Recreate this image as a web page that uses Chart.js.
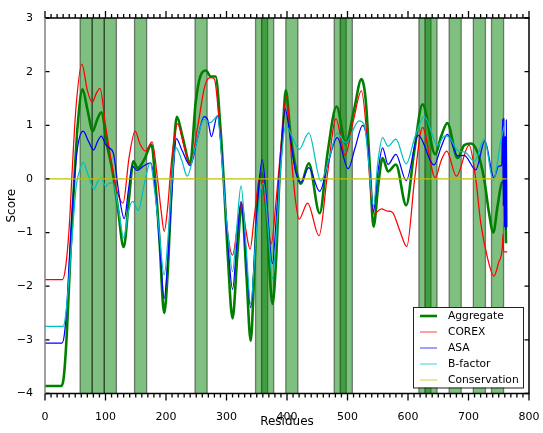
<!DOCTYPE html>
<html>
<head>
<meta charset="utf-8">
<script src="https://cdn.jsdelivr.net/npm/chart.js@4.4.0/dist/chart.umd.min.js"></script>
<style>
  html, body { margin: 0; padding: 0; background: #fff; }
  #wrap { width: 543px; height: 433px; }
</style>
</head>
<body>
<div id="wrap"><canvas id="chart"></canvas></div>
<script>
// Residue positions and scores, one pair of arrays per series
const aggRes = [0, 27, 31, 36, 42, 48, 54, 62, 70, 79, 86, 93, 103, 111, 120, 130, 139, 146, 153, 164, 176, 183, 189, 197, 203, 208, 213, 218, 227, 240, 249, 257, 266, 274, 282, 290, 296, 302, 310, 318, 325, 333, 340, 346, 351, 358, 366, 376, 382, 387, 393, 398, 406, 415, 423, 436, 454, 467, 482, 497, 511, 523, 527, 531, 537, 543, 551, 558, 567, 580, 597, 610, 624, 645, 655, 665, 682, 693, 704, 715, 726, 734, 741, 748, 756, 760, 762];
const aggScore = [-3.86, -3.86, -3.7, -2.9, -1.4, -0.1, 1.0, 1.67, 1.3, 0.89, 1.1, 1.24, 0.61, 0.18, -0.5, -1.27, -0.35, 0.33, 0.2, 0.36, 0.64, -0.15, -1.1, -2.5, -1.7, -0.45, 0.6, 1.16, 0.8, 0.29, 1.42, 1.92, 2.02, 1.91, 1.91, 0.95, -0.14, -1.4, -2.6, -1.4, -0.48, -1.8, -3.02, -1.7, -0.45, 0.12, -0.6, -2.33, -1.5, -0.14, 0.9, 1.65, 0.8, 0.18, -0.09, 0.29, -0.64, 0.48, 1.35, 0.66, 1.3, 1.86, 1.74, 1.35, 0.2, -0.89, -0.1, 0.39, 0.14, 0.27, -0.49, 0.49, 1.39, 0.46, 0.8, 1.04, 0.39, 0.63, 0.66, 0.49, -0.01, -0.64, -1.0, -0.51, -0.06, -0.1, -1.2];

const corexRes = [0, 29, 34, 40, 45, 51, 61, 70, 78, 85, 91, 100, 109, 117, 129, 139, 149, 157, 166, 177, 186, 192, 197, 203, 208, 213, 219, 230, 240, 252, 263, 268, 274, 280, 288, 296, 302, 310, 318, 325, 332, 339, 346, 356, 365, 374, 382, 390, 399, 408, 414, 420, 434, 453, 467, 481, 496, 510, 523, 532, 538, 544, 556, 566, 574, 586, 598, 611, 624, 645, 655, 664, 680, 701, 712, 720, 732, 742, 750, 756, 757, 758, 764];
const corexScore = [-1.875, -1.875, -1.65, -0.9, 0.17, 1.3, 2.14, 1.65, 1.43, 1.6, 1.69, 1.0, 0.36, -0.14, -0.45, 0.4, 0.89, 0.65, 0.52, 0.69, 0.0, -0.6, -0.98, -0.5, 0.2, 0.7, 1.03, 0.6, 0.27, 0.95, 1.68, 1.85, 1.89, 1.86, 1.05, -0.2, -1.0, -1.42, -0.9, -0.44, -0.95, -1.31, -0.7, 0.08, -0.5, -1.21, -0.4, 0.6, 1.55, 0.3, -0.4, -0.75, -0.45, -1.06, 0.1, 1.12, 0.44, 1.1, 1.64, 0.8, -0.2, -0.65, -0.56, -0.6, -0.62, -0.95, -1.26, 0.0, 0.96, 0.02, 0.35, 0.52, 0.05, 0.63, 0.0, -0.8, -1.5, -1.81, -1.55, -1.26, -1.03, -1.36, -1.36];

const asaRes = [0, 28, 32, 37, 42, 48, 54, 63, 72, 80, 87, 93, 100, 106, 113, 122, 131, 138, 144, 152, 163, 175, 183, 190, 197, 203, 209, 213, 217, 227, 240, 252, 263, 269, 275, 285, 292, 298, 303, 310, 317, 324, 332, 340, 347, 353, 359, 367, 376, 383, 390, 397, 405, 414, 423, 436, 454, 468, 483, 501, 513, 525, 532, 538, 543, 550, 558, 567, 580, 597, 617, 643, 655, 665, 682, 693, 712, 727, 742, 750, 755, 756.5, 757.5, 758.5, 759.5, 760.5, 761.5, 762.5, 763.5];
const asaScore = [-3.06, -3.06, -2.9, -2.2, -1.1, -0.1, 0.6, 0.89, 0.7, 0.54, 0.7, 0.8, 0.65, 0.58, 0.48, -0.26, -0.74, -0.2, 0.24, 0.16, 0.24, 0.3, -0.3, -1.3, -2.23, -1.5, -0.4, 0.3, 0.75, 0.52, 0.25, 0.75, 1.16, 1.1, 0.79, 1.18, 0.5, -0.5, -1.3, -2.06, -1.2, -0.42, -1.4, -2.4, -1.3, -0.2, 0.36, -0.5, -1.58, -0.6, 0.5, 1.3, 0.8, 0.15, -0.06, 0.21, -0.23, 0.3, 0.77, 0.19, 0.6, 1.0, 0.75, 0.0, -0.61, 0.1, 0.58, 0.27, 0.46, -0.03, 0.81, 0.26, 0.6, 0.83, 0.43, 0.44, 0.17, 0.71, 0.02, 0.24, 0.25, 1.12, -0.5, 1.14, -0.9, 0.8, -0.95, 1.1, -0.9];

const bfacRes = [0, 30, 34, 40, 46, 52, 57, 63, 72, 81, 87, 93, 100, 106, 112, 122, 130, 138, 145, 154, 164, 174, 181, 188, 197, 204, 210, 216, 226, 235, 249, 263, 273, 280, 285, 292, 298, 303, 310, 317, 324, 332, 340, 348, 354, 361, 368, 376, 383, 390, 398, 408, 420, 436, 456, 470, 483, 497, 519, 528, 535, 543, 550, 558, 567, 580, 597, 612, 627, 649, 660, 665, 683, 694, 710, 726, 741, 753, 759];
const bfacScore = [-2.75, -2.75, -2.55, -1.8, -0.9, -0.1, 0.15, 0.31, 0.05, -0.19, -0.05, 0.02, -0.14, -0.08, -0.08, -0.6, -1.1, -0.6, -0.42, -0.59, -0.1, 0.3, -0.2, -0.9, -1.79, -1.0, 0.0, 0.59, 0.35, 0.05, 0.62, 1.11, 1.05, 1.12, 1.175, 0.4, -0.5, -1.1, -1.73, -0.9, -0.13, -1.2, -2.33, -1.2, -0.4, -0.08, -0.8, -1.86, -0.9, 0.3, 1.0, 0.8, 0.55, 0.86, -0.04, 0.4, 0.86, 0.67, 1.08, 1.0, 0.3, -0.51, 0.3, 0.77, 0.61, 0.74, 0.28, 0.8, 1.16, 0.62, 0.8, 0.8, 0.52, 0.5, 0.33, 0.74, -0.03, 0.68, 0.99];

const consRes = [0, 763];
const consScore = [0, 0];

// Highlighted residue windows (start residue, 20 residues wide)
const bandStarts = [58, 78, 98, 148, 248, 348, 358, 398, 478, 488, 618, 628, 668, 708, 738];
const bandWidth = 20;

const xTicks = [0, 100, 200, 300, 400, 500, 600, 700, 800];
const yTicks = [-4, -3, -2, -1, 0, 1, 2, 3];

const FONT = 'DejaVu Sans';

function toPoints(res, score) {
    return res.map((r, i) => ({ x: r, y: score[i] }));
}

function series(label, res, score, color, width, order) {
    return {
        label: label,
        data: toPoints(res, score),
        borderColor: color,
        backgroundColor: color,
        borderWidth: width,
        pointRadius: 0,
        cubicInterpolationMode: 'monotone',
        fill: false,
        order: order
    };
}

// Shaded residue windows behind the lines
const bandsPlugin = {
    id: 'bands',
    beforeDatasetsDraw(chart) {
        const { ctx, chartArea, scales } = chart;
        ctx.save();
        bandStarts.forEach(start => {
            const x0 = scales.x.getPixelForValue(start);
            const x1 = scales.x.getPixelForValue(start + bandWidth);
            ctx.fillStyle = 'rgba(0,128,0,0.5)';
            ctx.fillRect(x0, chartArea.top, x1 - x0, chartArea.bottom - chartArea.top);
            ctx.strokeStyle = 'rgba(0,0,0,0.45)';
            ctx.lineWidth = 1.3;
            ctx.beginPath();
            ctx.moveTo(x0, chartArea.top);
            ctx.lineTo(x0, chartArea.bottom);
            ctx.moveTo(x1, chartArea.top);
            ctx.lineTo(x1, chartArea.bottom);
            ctx.stroke();
        });
        ctx.restore();
    }
};

// Spines and tick marks in the matplotlib manner
const framePlugin = {
    id: 'frame',
    afterDraw(chart) {
        const { ctx, chartArea: a, scales } = chart;
        ctx.save();
        ctx.lineWidth = 1.3;
        ctx.strokeStyle = '#000';
        ctx.beginPath();
        for (let v = 0; v <= 800; v += 10) {
            const x = scales.x.getPixelForValue(v);
            const len = v % 100 === 0 ? 7 : 4;
            ctx.moveTo(x, a.bottom);
            ctx.lineTo(x, a.bottom + len);
            ctx.moveTo(x, a.top);
            ctx.lineTo(x, a.top - len);
        }
        yTicks.forEach(v => {
            const y = scales.y.getPixelForValue(v);
            ctx.moveTo(a.left, y);
            ctx.lineTo(a.left + 4.5, y);
            ctx.moveTo(a.right, y);
            ctx.lineTo(a.right - 4.5, y);
        });
        ctx.stroke();

        ctx.lineWidth = 1.5;
        ctx.beginPath();
        ctx.moveTo(a.left, a.top);
        ctx.lineTo(a.right, a.top);
        ctx.lineTo(a.right, a.bottom);
        ctx.lineTo(a.left, a.bottom);
        ctx.stroke();
        ctx.strokeStyle = '#808080';
        ctx.beginPath();
        ctx.moveTo(a.left, a.top);
        ctx.lineTo(a.left, a.bottom);
        ctx.stroke();
        ctx.restore();
    }
};

// Boxed legend inside the lower right corner
const legendPlugin = {
    id: 'boxLegend',
    afterDraw(chart) {
        const { ctx, chartArea: a } = chart;
        const w = 110, h = 80.5;
        const left = a.right - 6 - w;
        const top = a.bottom - 6 - h;
        ctx.save();
        ctx.fillStyle = '#fff';
        ctx.fillRect(left, top, w, h);
        ctx.strokeStyle = '#222';
        ctx.lineWidth = 1;
        ctx.strokeRect(left + 0.5, top + 0.5, w, h);
        ctx.font = '10.7px "' + FONT + '"';
        ctx.textBaseline = 'middle';
        ctx.textAlign = 'left';
        chart.data.datasets.forEach((ds, i) => {
            const y = top + 9 + i * 16;
            ctx.strokeStyle = ds.borderColor;
            ctx.lineWidth = ds.borderWidth;
            ctx.globalAlpha = ds.borderWidth > 2 ? 1 : 0.6;
            ctx.beginPath();
            ctx.moveTo(left + 7, y);
            ctx.lineTo(left + 24, y);
            ctx.stroke();
            ctx.globalAlpha = 1;
            ctx.fillStyle = '#000';
            ctx.fillText(ds.label, left + 35, y + 0.5);
        });
        ctx.restore();
    }
};

const minus = v => String(v).replace('-', '\u2212');

new Chart(document.getElementById('chart'), {
    type: 'line',
    data: {
        datasets: [
            series('Aggregate', aggRes, aggScore, '#008000', 2.6, 5),
            series('COREX', corexRes, corexScore, '#ff0000', 1.25, 4),
            series('ASA', asaRes, asaScore, '#0000ff', 1.25, 3),
            series('B-factor', bfacRes, bfacScore, '#00bfbf', 1.25, 2),
            series('Conservation', consRes, consScore, '#bfbf00', 1.25, 1)
        ]
    },
    options: {
        responsive: true,
        maintainAspectRatio: false,
        animation: false,
        devicePixelRatio: 1,
        layout: { padding: { top: 18, right: 14, left: 0, bottom: 0 } },
        plugins: {
            legend: { display: false },
            tooltip: { enabled: false }
        },
        scales: {
            x: {
                type: 'linear',
                min: 0,
                max: 800,
                afterBuildTicks: s => { s.ticks = xTicks.map(v => ({ value: v })); },
                ticks: {
                    padding: 9,
                    color: '#000',
                    maxRotation: 0,
                    font: { family: FONT, size: 11 }
                },
                grid: { display: false },
                border: { display: false },
                title: {
                    display: true,
                    text: 'Residues',
                    color: '#000',
                    font: { family: FONT, size: 12 },
                    padding: { top: 0, bottom: 4 }
                },
                afterFit: s => {
                    s.height = 39.5;
                    s.paddingLeft = 0;
                    s.paddingRight = 0;
                }
            },
            y: {
                type: 'linear',
                min: -4,
                max: 3,
                afterBuildTicks: s => { s.ticks = yTicks.map(v => ({ value: v })); },
                ticks: {
                    padding: 4,
                    color: '#000',
                    font: { family: FONT, size: 11 },
                    callback: v => minus(v)
                },
                grid: { display: false },
                border: { display: false },
                title: {
                    display: true,
                    text: 'Score',
                    color: '#000',
                    font: { family: FONT, size: 12 },
                    padding: { top: 5, bottom: 0 }
                },
                afterFit: s => { s.width = 45; }
            }
        }
    },
    plugins: [bandsPlugin, framePlugin, legendPlugin]
});
</script>
</body>
</html>
